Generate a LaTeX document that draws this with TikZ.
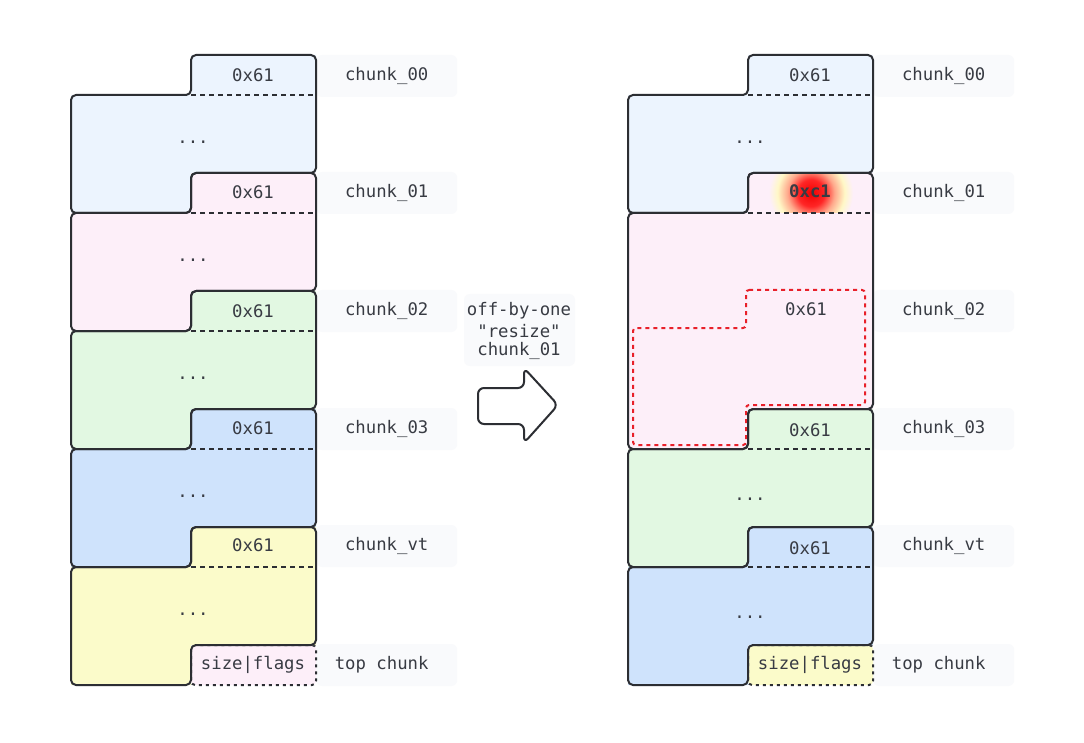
\documentclass[tikz,border=0pt]{standalone}
\usepackage{fontspec}
\setmonofont{DejaVu Sans Mono}
\definecolor{ink}{HTML}{2C2E33}
\definecolor{txt}{HTML}{383B43}
\definecolor{cblue}{HTML}{ECF4FE}
\definecolor{cpink}{HTML}{FDEFF9}
\definecolor{cgreen}{HTML}{E2F8E2}
\definecolor{cdblue}{HTML}{CFE3FC}
\definecolor{cyellow}{HTML}{FBFBCA}
\definecolor{lblbg}{HTML}{F9FAFC}
\definecolor{ghostred}{HTML}{E8202A}
\pgfdeclareradialshading{glow}{\pgfpointorigin}{%
  color(0bp)=(red!95!black);
  color(8bp)=(red!85);
  color(14bp)=(red!50!orange!45!white);
  color(20bp)=(orange!25!yellow!22!white);
  color(25bp)=(cpink);
  color(50bp)=(cpink)}
\newcommand\chunkfill[4]{%
  \fill[fill=#4] (#1+120,#2) -- (#1+245,#2) -- (#1+245,#2+#3) -- (#1+120,#2+#3)
    -- (#1+120,#2+#3+40) -- (#1,#2+#3+40) -- (#1,#2+40) -- (#1+120,#2+40) -- cycle;}
\newcommand\chunkdraw[3]{%
  \draw[chunkline] (#1+120,#2) -- (#1+245,#2) -- (#1+245,#2+#3) -- (#1+120,#2+#3)
    -- (#1+120,#2+#3+40) -- (#1,#2+#3+40) -- (#1,#2+40) -- (#1+120,#2+40) -- cycle;
  \draw[hdrline] (#1+120,#2+40) -- (#1+245,#2+40);}
\begin{document}
\begin{tikzpicture}[x=1pt,y=-1pt,
  chunkline/.style={draw=ink,line width=2pt,rounded corners=5pt,line join=round},
  hdrline/.style={draw=ink,line width=2pt,dash pattern=on 5pt off 4pt},
  topbox/.style={draw=ink,line width=2pt,dash pattern=on 3pt off 4pt,rounded corners=4pt},
  ghost/.style={draw=ghostred,line width=2pt,dash pattern=on 4pt off 4pt,rounded corners=3pt},
  mono/.style={font=\ttfamily\fontsize{17.3}{19}\selectfont,text=txt,inner sep=0pt},
  lbl/.style={mono,fill=lblbg,rounded corners=6pt,minimum width=141pt,minimum height=42pt,anchor=west},
  arrowshape/.style={draw=ink,line width=2pt,fill=white,rounded corners=6pt,line join=round}]
\useasboundingbox (0,0) rectangle (1084,743);
\fill[white] (0,0) rectangle (1084,743);

% ---------- label backgrounds ----------
\node[lbl] (l00) at (316,76) {chunk\_00};
\node[lbl] (l01) at (316,193) {chunk\_01};
\node[lbl] (l02) at (316,311) {chunk\_02};
\node[lbl] (l03) at (316,429) {chunk\_03};
\node[lbl] (lvt) at (316,546) {chunk\_vt};
\node[lbl] (ltop) at (316,665) {\hspace*{-10pt}top chunk};
\node[lbl] (r00) at (873,76) {chunk\_00};
\node[lbl] (r01) at (873,193) {chunk\_01};
\node[lbl] (r02) at (873,311) {chunk\_02};
\node[lbl] (r03) at (873,429) {chunk\_03};
\node[lbl] (rvt) at (873,546) {chunk\_vt};
\node[lbl] (rtop) at (873,665) {\hspace*{-10pt}top chunk};

% ---------- left column ----------
\draw[topbox,fill=cpink] (191,645) rectangle (316,685);
\chunkfill{71}{55}{118}{cblue}
\chunkfill{71}{173}{118}{cpink}
\chunkfill{71}{291}{118}{cgreen}
\chunkfill{71}{409}{118}{cdblue}
\chunkfill{71}{527}{118}{cyellow}
\chunkdraw{71}{55}{118}
\chunkdraw{71}{173}{118}
\chunkdraw{71}{291}{118}
\chunkdraw{71}{409}{118}
\chunkdraw{71}{527}{118}

\node[mono] (a0h) at (253,75) {0x61};
\node[mono] (a0b) at (193,142) {...};
\node[mono] (a1h) at (253,192) {0x61};
\node[mono] (a1b) at (193,260) {...};
\node[mono] (a2h) at (253,311) {0x61};
\node[mono] (a2b) at (193,378) {...};
\node[mono] (a3h) at (253,428) {0x61};
\node[mono] (a3b) at (193,496) {...};
\node[mono] (avh) at (253,545) {0x61};
\node[mono] (avb) at (193,614) {...};
\node[mono] (ath) at (253,665) {size|flags};

% ---------- middle ----------
\fill[lblbg,rounded corners=6pt] (464,294) rectangle (575,366);
\node[mono] (m1) at (519,311) {off-by-one};
\node[mono] (m2) at (519,331) {"resize"};
\node[mono] (m3) at (519,351) {chunk\_01};
\draw[arrowshape] (478,388) -- (524,388) -- (524,368) -- (558,405) -- (524,443) -- (524,424) -- (478,424) -- cycle;

% ---------- right column ----------
\draw[topbox,fill=cyellow] (748,645) rectangle (873,685);
\chunkfill{628}{55}{118}{cblue}
\chunkfill{628}{173}{236}{cpink}
\chunkfill{628}{409}{118}{cgreen}
\chunkfill{628}{527}{118}{cdblue}
\begin{scope}
  \clip (748,173) rectangle (873,213);
  \shade[shading=glow] (811,193) circle (42);
\end{scope}
\draw[ghost] (746,290) -- (865,290) -- (865,405) -- (746,405) -- (746,445)
  -- (633,445) -- (633,328) -- (746,328) -- cycle;
\chunkdraw{628}{55}{118}
\chunkdraw{628}{173}{236}
\chunkdraw{628}{409}{118}
\chunkdraw{628}{527}{118}

\node[mono] (b0h) at (810,75) {0x61};
\node[mono] (b0b) at (750,142) {...};
\node[mono,font=\ttfamily\bfseries\fontsize{17.3}{19}\selectfont] (b1h) at (810,191) {0xc1};
\node[mono] (b2h) at (806,309) {0x61};
\node[mono] (b3h) at (810,430) {0x61};
\node[mono] (b3b) at (750,499) {...};
\node[mono] (bvh) at (810,548) {0x61};
\node[mono] (bvb) at (750,617) {...};
\node[mono] (bth) at (810,665) {size|flags};
\end{tikzpicture}
\end{document}
